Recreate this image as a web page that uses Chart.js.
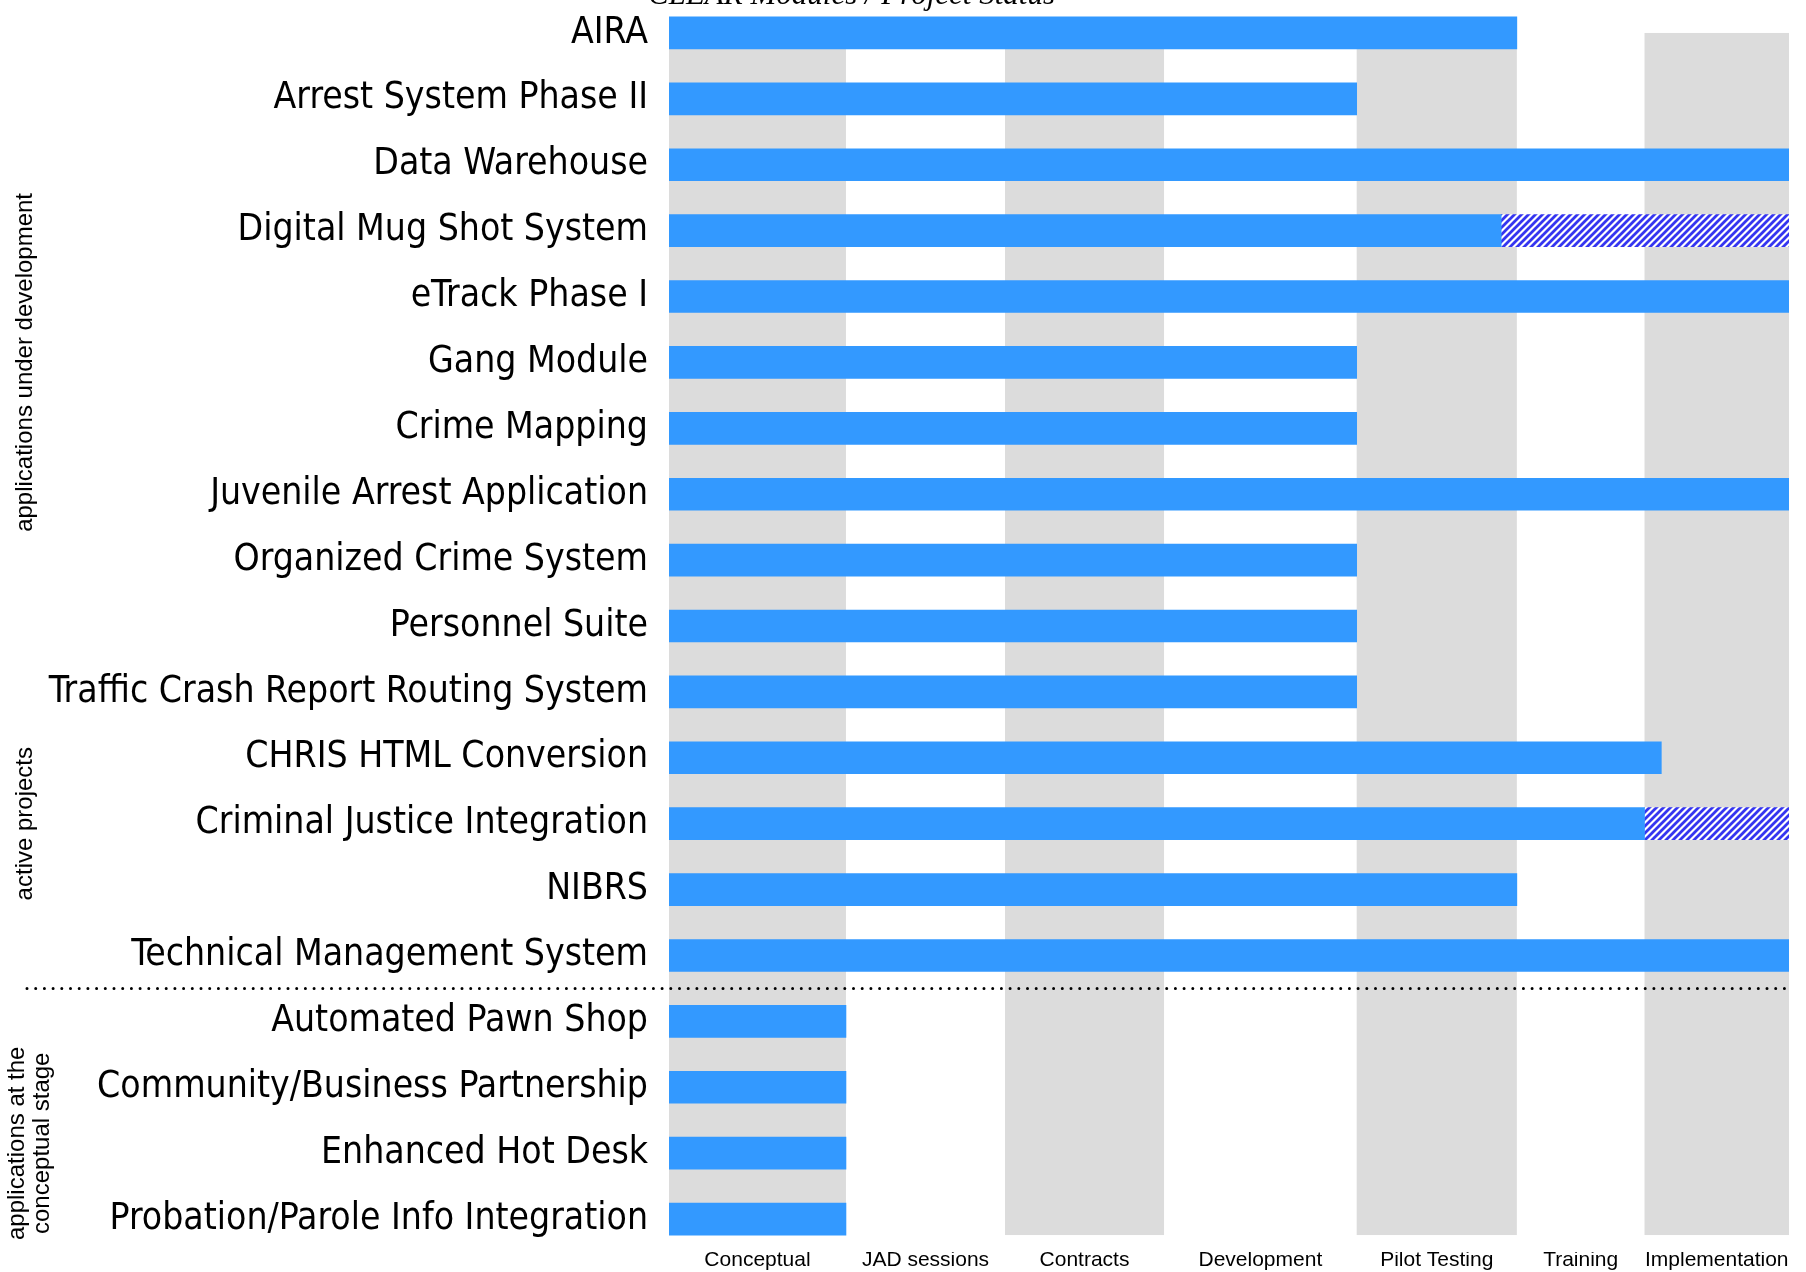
<!DOCTYPE html>
<html>
<head>
<meta charset="utf-8">
<script src="https://cdn.jsdelivr.net/npm/chart.js@4.4.0/dist/chart.umd.min.js"></script>
<style>
  html, body { margin: 0; padding: 0; background: #fff; overflow: hidden; }
  canvas { display: block; }
</style>
</head>
<body>
<canvas id="statusChart" width="1806" height="1272"></canvas>
<script>
// projects, top to bottom
const projects = [
    'AIRA', 'Arrest System Phase II', 'Data Warehouse', 'Digital Mug Shot System',
    'eTrack Phase I', 'Gang Module', 'Crime Mapping', 'Juvenile Arrest Application',
    'Organized Crime System', 'Personnel Suite', 'Traffic Crash Report Routing System',
    'CHRIS HTML Conversion', 'Criminal Justice Integration', 'NIBRS', 'Technical Management System',
    'Automated Pawn Shop', 'Community/Business Partnership', 'Enhanced Hot Desk',
    'Probation/Parole Info Integration'
];

// progress along the project life cycle (0 - 100)
const progress = [75.7, 61.4, 100, 74.3, 100, 61.4, 61.4, 100, 61.4, 61.4, 61.4,
                  88.6, 87.1, 75.7, 100, 15.8, 15.8, 15.8, 15.8];
// hatched part (planned / partial)
const planned = [null, null, null, 25.7, null, null, null, null, null, null, null,
                 null, 12.9, null, null, null, null, null, null];

const stageNames = ['Conceptual', 'JAD sessions', 'Contracts', 'Development', 'Pilot Testing', 'Training', 'Implementation'];
const stageEnds = [15.8, 30.0, 44.2, 61.4, 75.7, 87.1, 100];

const groups = [
    { lines: ['applications under development'], at: 5 },
    { lines: ['active projects'], at: 12 },
    { lines: ['applications at the', 'conceptual stage'], at: 16.85 }
];
const dividerAfter = 14;

const stageStarts = stageEnds.map((v, i) => i === 0 ? 0 : stageEnds[i - 1]);
const stageCenters = stageEnds.map((v, i) => (stageStarts[i] + v) / 2);

function hatch() {
    const c = document.createElement('canvas');
    c.width = 7; c.height = 7;
    const g = c.getContext('2d');
    g.fillStyle = '#ffffff';
    g.fillRect(0, 0, 7, 7);
    g.strokeStyle = '#3535f0';
    g.lineWidth = 2.8;
    g.beginPath();
    g.moveTo(-1, 8); g.lineTo(8, -1);
    g.moveTo(-4.5, 4.5); g.lineTo(4.5, -4.5);
    g.moveTo(2.5, 11.5); g.lineTo(11.5, 2.5);
    g.stroke();
    return g.createPattern(c, 'repeat');
}

const bandsPlugin = {
    id: 'bands',
    beforeDatasetsDraw(chart) {
        const ctx = chart.ctx, x = chart.scales.x, y = chart.scales.y;
        const top = y.getPixelForValue(0);
        const bottom = y.getPixelForValue(projects.length - 1) + 16;
        ctx.save();
        ctx.fillStyle = '#dcdcdc';
        for (let i = 0; i < stageEnds.length; i += 2) {
            const x0 = x.getPixelForValue(stageStarts[i]);
            const x1 = x.getPixelForValue(stageEnds[i]);
            ctx.fillRect(x0, top, x1 - x0, bottom - top);
        }
        ctx.restore();
    },
    afterDraw(chart) {
        const ctx = chart.ctx, x = chart.scales.x, y = chart.scales.y;
        ctx.save();
        // divider between active projects and conceptual stage
        const yd = (y.getPixelForValue(dividerAfter) + y.getPixelForValue(dividerAfter + 1)) / 2;
        ctx.strokeStyle = '#000';
        ctx.lineWidth = 3;
        ctx.lineCap = 'round';
        ctx.setLineDash([0, 8.7]);
        ctx.beginPath();
        ctx.moveTo(27, yd);
        ctx.lineTo(x.getPixelForValue(100), yd);
        ctx.stroke();
        ctx.setLineDash([]);

        // group captions
        ctx.fillStyle = '#000';
        ctx.font = '24px "Liberation Sans", Arial, sans-serif';
        ctx.textAlign = 'center';
        ctx.textBaseline = 'middle';
        groups.forEach(gr => {
            const cy = y.getPixelForValue(gr.at);
            const n = gr.lines.length;
            const cx = n > 1 ? 30 : 25;
            gr.lines.forEach((t, k) => {
                ctx.save();
                ctx.translate(cx + (k - (n - 1) / 2) * 25, cy);
                ctx.rotate(-Math.PI / 2);
                ctx.fillText(t, 0, 0);
                ctx.restore();
            });
        });

        // title, mostly cut off at the top
        ctx.font = 'italic 31px "Liberation Serif", "Times New Roman", serif';
        ctx.textAlign = 'left';
        ctx.textBaseline = 'alphabetic';
        ctx.fillText('CLEAR Modules / Project Status', 648, 4);
        ctx.restore();
    }
};

new Chart(document.getElementById('statusChart'), {
    type: 'bar',
    data: {
        labels: projects,
        datasets: [
            { data: progress, backgroundColor: '#3399ff', barThickness: 32, borderWidth: 0 },
            { data: planned, backgroundColor: hatch(), barThickness: 32, borderWidth: 0 }
        ]
    },
    options: {
        indexAxis: 'y',
        responsive: false,
        animation: false,
        layout: { padding: { left: 0, right: 17, top: 0, bottom: 0 } },
        plugins: { legend: { display: false }, tooltip: { enabled: false }, title: { display: false } },
        scales: {
            x: {
                type: 'linear', min: 0, max: 100, stacked: true,
                grid: { display: false, drawTicks: false }, border: { display: false },
                afterBuildTicks: s => { s.ticks = stageCenters.map(v => ({ value: v })); },
                afterFit: s => { s.height = 20; s.paddingLeft = 0; s.paddingRight = 0; },
                ticks: {
                    autoSkip: false, maxRotation: 0, padding: -4, color: '#000',
                    font: { family: '"Liberation Sans", Arial, sans-serif', size: 21 },
                    callback: (v, i) => stageNames[i]
                }
            },
            y: {
                stacked: true,
                grid: { display: false, drawTicks: false }, border: { display: false },
                afterFit: s => { s.width = 669; s.paddingTop = 0; s.paddingBottom = 0; },
                ticks: {
                    padding: 21, color: '#000', autoSkip: false,
                    font: { family: '"DejaVu Sans Condensed", "DejaVu Sans", sans-serif', size: 37 }
                }
            }
        }
    },
    plugins: [bandsPlugin]
});
</script>
</body>
</html>
